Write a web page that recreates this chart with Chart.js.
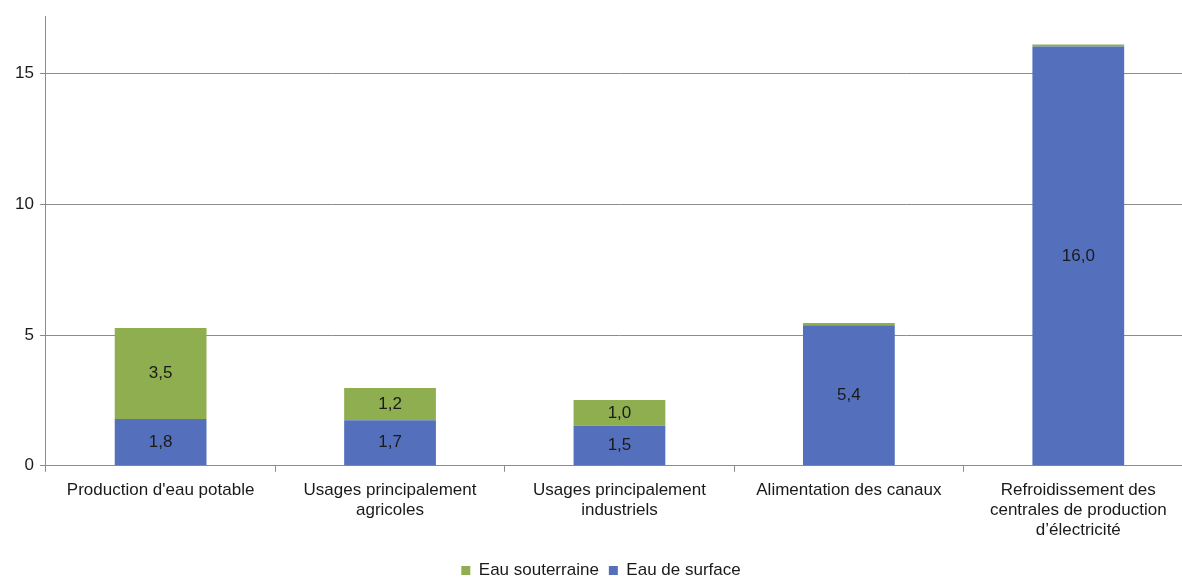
<!DOCTYPE html>
<html>
<head>
<meta charset="utf-8">
<script src="https://cdn.jsdelivr.net/npm/chart.js@4"></script>
<style>
  html, body { margin: 0; padding: 0; background: #fff; overflow: hidden; }
  #wrap { width: 1193px; height: 577px; }
</style>
</head>
<body>
<div id="wrap"><canvas id="chart"></canvas></div>
<script>
// categories and values (milliards de m3)
const categories = [
  "Production d'eau potable",
  ["Usages principalement", "agricoles"],
  ["Usages principalement", "industriels"],
  "Alimentation des canaux",
  ["Refroidissement des", "centrales de production", "d\u2019électricité"]
];
const eauSurface = [1.79, 1.74, 1.53, 5.38, 16.04];
const eauSouterraine = [3.48, 1.24, 0.99, 0.08, 0.08];
const yTicks = [0, 5, 10, 15];

// simple inline value labels, comma decimals
const valueLabels = {
  id: 'valueLabels',
  afterDatasetsDraw(chart) {
    const ctx = chart.ctx;
    ctx.save();
    ctx.font = '17px "Liberation Sans", Arial, sans-serif';
    ctx.fillStyle = '#1a1a1a';
    ctx.textAlign = 'center';
    ctx.textBaseline = 'middle';
    chart.data.datasets.forEach((ds, i) => {
      chart.getDatasetMeta(i).data.forEach((bar, j) => {
        const v = ds.data[j];
        if (v < 0.5) return;
        const y = (bar.y + bar.base) / 2;
        ctx.fillText(v.toFixed(1).replace('.', ','), bar.x, y);
      });
    });
    ctx.restore();
  }
};

const font = { family: '"Liberation Sans", Arial, sans-serif', size: 17 };

new Chart(document.getElementById('chart'), {
  type: 'bar',
  data: {
    labels: categories,
    datasets: [{
      label: 'Eau de surface',
      data: eauSurface,
      backgroundColor: '#5470bd',
      categoryPercentage: 1,
      barPercentage: 0.4
    }, {
      label: 'Eau souterraine',
      data: eauSouterraine,
      backgroundColor: '#8fae4f',
      categoryPercentage: 1,
      barPercentage: 0.4
    }]
  },
  options: {
    responsive: true,
    maintainAspectRatio: false,
    animation: false,
    layout: { padding: { top: 15, left: 9, right: 0, bottom: -12 } },
    plugins: {
      tooltip: { enabled: false },
      legend: {
        position: 'bottom',
        reverse: true,
        labels: {
          font: font,
          color: '#1a1a1a',
          boxWidth: 9,
          boxHeight: 9,
          padding: 10
        }
      }
    },
    scales: {
      x: {
        stacked: true,
        afterFit(axis) { axis.height += 3; },
        grid: { drawOnChartArea: false, color: '#8c8c8c', tickLength: 6, offset: true },
        border: { color: '#8c8c8c' },
        ticks: { font: font, color: '#1a1a1a', maxRotation: 0, autoSkip: false, padding: 8 }
      },
      y: {
        stacked: true,
        min: 0,
        max: 17.2,
        afterBuildTicks(axis) { axis.ticks = yTicks.map(v => ({ value: v })); },
        grid: { color: '#8c8c8c', tickLength: 6 },
        border: { color: '#8c8c8c' },
        ticks: { font: font, color: '#1a1a1a', padding: 6 }
      }
    }
  },
  plugins: [valueLabels]
});
</script>
</body>
</html>
